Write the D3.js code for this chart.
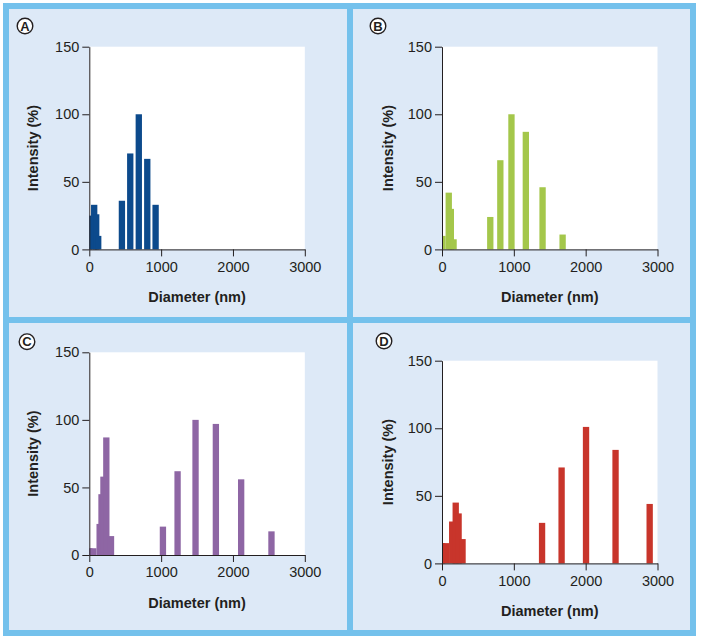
<!DOCTYPE html>
<html>
<head>
<meta charset="utf-8">
<script src="https://cdn.jsdelivr.net/npm/d3@7"></script>
<style>
  body { margin: 0; background: #fff; }
  svg { display: block; }
  text { font-family: "Liberation Sans", Arial, sans-serif; fill: #231f20; }
</style>
</head>
<body>
<div id="chart"></div>
<script>
// bar centres (nm) and intensity (%)
let diamA = [0, 68, 96, 124, 454, 570, 689, 807, 923],
    intenA = [25, 33, 26, 10, 36, 71, 100, 67, 33];
let diamB = [6, 94, 123, 161, 672, 812, 967, 1167, 1400, 1679],
    intenB = [10, 42, 30, 7.5, 24, 66, 100, 87, 46, 11];
let diamC = [0, 56, 144, 170, 197, 237, 302, 1025, 1229, 1479, 1762, 2114, 2536],
    intenC = [5, 5, 23, 45, 58, 87, 14, 21, 62, 100, 97, 56, 17.5];
let diamD = [0, 54, 142, 191, 231, 286, 1393, 1665, 2005, 2416, 2891],
    intenD = [15, 15, 31, 45, 37, 18, 30, 71, 101, 84, 44];

let xTicks = [0, 1000, 2000, 3000],
    yTicks = [0, 50, 100, 150];
let panelNames = ["A", "B", "C", "D"];
let barColors = ["#0c4a8c", "#a4c74b", "#8e66a4", "#c8352b"];

let BIN_NM = 88;   // bar width in nm

// layout of the four panels (plot box left/top, label circle, y title x)
let layout = [
    {px: 89.3, py: 46.7, cx: 25, cy: 26, tx: 33},
    {px: 442, py: 46.7, cx: 378, cy: 26, tx: 388},
    {px: 89.3, py: 352.3, cx: 27, cy: 341.7, tx: 33},
    {px: 442, py: 360.7, cx: 384, cy: 341, tx: 388}
];
let PW = 215.5, PH = 202.7;

let svg = d3.select("#chart")
  .append("svg")
    .attr("width", 701)
    .attr("height", 641);

// frame and panel backgrounds
svg.append("rect")
    .attr("x", 6).attr("y", 6)
    .attr("width", 687).attr("height", 627)
    .attr("fill", "#dde9f7")
    .attr("stroke", "#74c1ec")
    .attr("stroke-width", 6);
svg.append("line")
    .attr("x1", 350).attr("x2", 350).attr("y1", 6).attr("y2", 633)
    .attr("stroke", "#74c1ec").attr("stroke-width", 6);
svg.append("line")
    .attr("x1", 6).attr("x2", 693).attr("y1", 320).attr("y2", 320)
    .attr("stroke", "#74c1ec").attr("stroke-width", 6);

let drawPanel = function(i, diam, inten) {
    let L = layout[i];
    let x = d3.scaleLinear().domain([0, 3000]).range([L.px, L.px + PW]),
        y = d3.scaleLinear().domain([0, 150]).range([L.py + PH, L.py]);

    let g = svg.append("g");

    g.append("rect")
        .attr("x", L.px).attr("y", L.py)
        .attr("width", PW).attr("height", PH)
        .attr("fill", "#fff");

    let bars = diam.map(function(d, j) { return {d: d, v: inten[j]}; });
    g.selectAll("rect.bar")
        .data(bars)
      .enter().append("rect")
        .attr("class", "bar")
        .attr("x", function(b) { return x(Math.max(0, b.d - BIN_NM / 2)); })
        .attr("width", function(b) { return x(b.d + BIN_NM / 2) - x(Math.max(0, b.d - BIN_NM / 2)); })
        .attr("y", function(b) { return y(b.v); })
        .attr("height", function(b) { return y(0) - y(b.v); })
        .attr("fill", barColors[i]);

    let xAxis = g.append("g")
        .attr("transform", "translate(0," + (L.py + PH) + ")")
        .call(d3.axisBottom(x).tickValues(xTicks).tickFormat(d3.format("d"))
            .tickSize(7).tickSizeOuter(0).tickPadding(5));
    let yAxis = g.append("g")
        .attr("transform", "translate(" + L.px + ",0)")
        .call(d3.axisLeft(y).tickValues(yTicks).tickFormat(d3.format("d"))
            .tickSize(7).tickSizeOuter(0).tickPadding(3));
    [xAxis, yAxis].forEach(function(a) {
        a.selectAll("path, line").attr("stroke", "#231f20").attr("stroke-width", 1);
        a.selectAll("text").attr("font-size", 14.5).attr("fill", "#231f20")
            .attr("font-family", '"Liberation Sans", Arial, sans-serif');
    });

    g.append("text")
        .attr("x", L.px + PW / 2)
        .attr("y", L.py + PH + 53)
        .attr("text-anchor", "middle")
        .attr("font-size", 14.5)
        .attr("font-weight", "bold")
        .text("Diameter (nm)");
    g.append("text")
        .attr("transform", "translate(" + L.tx + "," + (L.py + PH / 2) + ") rotate(-90)")
        .attr("dy", "0.35em")
        .attr("text-anchor", "middle")
        .attr("font-size", 14.5)
        .attr("font-weight", "bold")
        .text("Intensity (%)");

    // circled panel letter
    g.append("circle")
        .attr("cx", L.cx).attr("cy", L.cy).attr("r", 7.8)
        .attr("fill", "#fff")
        .attr("stroke", "#231f20")
        .attr("stroke-width", 1.4);
    g.append("text")
        .attr("x", L.cx).attr("y", L.cy)
        .attr("dy", "0.36em")
        .attr("text-anchor", "middle")
        .attr("font-size", 13)
        .attr("font-weight", "bold")
        .text(panelNames[i]);
};

drawPanel(0, diamA, intenA);
drawPanel(1, diamB, intenB);
drawPanel(2, diamC, intenC);
drawPanel(3, diamD, intenD);
</script>
</body>
</html>
